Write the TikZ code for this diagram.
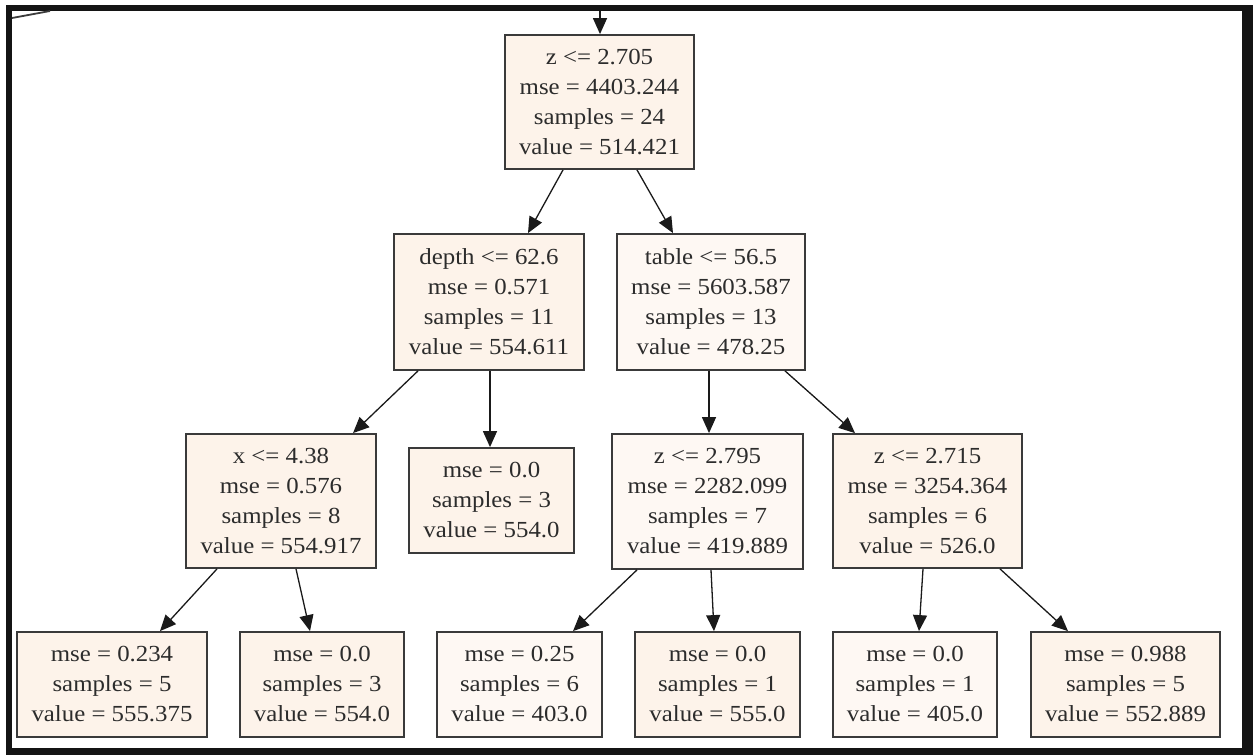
\documentclass[tikz,border=0pt]{standalone}
\usepackage{fontspec}
\setmainfont{Liberation Serif}[FakeStretch=1.08]
\usetikzlibrary{arrows.meta}

\definecolor{nodefill}{HTML}{FDF3EA}
\definecolor{palefill}{HTML}{FEF8F3}
\definecolor{boxline}{HTML}{3A3A3A}
\definecolor{textcol}{HTML}{2C2C2C}
\definecolor{edgecol}{HTML}{1A1A1A}

\begin{document}
\begin{tikzpicture}[x=1pt,y=-1pt,
  box/.style={draw=boxline, line width=1.8pt, fill=nodefill, text=textcol,
    align=center, inner sep=0pt, font=\fontsize{23}{30}\selectfont},
  splitbox/.style={box, minimum width=#1, minimum height=134pt},
  leafbox/.style={box, minimum width=#1, minimum height=105pt},
  edge/.style={draw=edgecol, line width=1.3pt,
    -{Triangle[length=16pt,width=14pt]}},
]
\useasboundingbox (0,0) rectangle (1257,755);

% screen frame around the tree view
\fill[black!92] (6,5) rectangle (1253,755);
\fill[white] (12,11) rectangle (1242,748);

% edges entering from outside the view
\coordinate (inTop) at (600,11);
\coordinate (cutA) at (12,18);
\coordinate (cutB) at (50,11);
\draw[edgecol!85, line width=1.8pt] (cutA) -- (cutB);

% split nodes
\node[splitbox=189pt] (root) at (599.5,102)
  {z <= 2.705\\mse = 4403.244\\samples = 24\\value = 514.421};
\node[splitbox=190pt, minimum height=136pt] (depth) at (489,302)
  {depth <= 62.6\\mse = 0.571\\samples = 11\\value = 554.611};
\node[splitbox=188pt, minimum height=136pt, fill=palefill] (table) at (711,302)
  {table <= 56.5\\mse = 5603.587\\samples = 13\\value = 478.25};
\node[splitbox=190pt] (xs) at (281,501)
  {x <= 4.38\\mse = 0.576\\samples = 8\\value = 554.917};
\node[splitbox=191pt, minimum height=135pt, fill=palefill] (zl) at (707.5,501.5)
  {z <= 2.795\\mse = 2282.099\\samples = 7\\value = 419.889};
\node[splitbox=189pt] (zr) at (927.5,501)
  {z <= 2.715\\mse = 3254.364\\samples = 6\\value = 526.0};

% leaves
\node[leafbox=165pt] (leafA) at (491.5,500.5)
  {mse = 0.0\\samples = 3\\value = 554.0};
\node[leafbox=190pt] (leafB) at (112,684.5)
  {mse = 0.234\\samples = 5\\value = 555.375};
\node[leafbox=164pt] (leafC) at (322,684.5)
  {mse = 0.0\\samples = 3\\value = 554.0};
\node[leafbox=165pt, fill=palefill] (leafD) at (519.5,684.5)
  {mse = 0.25\\samples = 6\\value = 403.0};
\node[leafbox=165pt] (leafE) at (717.5,684.5)
  {mse = 0.0\\samples = 1\\value = 555.0};
\node[leafbox=164pt, fill=palefill] (leafF) at (915,684.5)
  {mse = 0.0\\samples = 1\\value = 405.0};
\node[leafbox=189pt] (leafG) at (1125.5,684.5)
  {mse = 0.988\\samples = 5\\value = 552.889};

% connectors
\draw[edge] (inTop) -- ([xshift=0.5pt]root.north);
\draw[edge] ([xshift=-36.5pt]root.south) -- ([xshift=39pt]depth.north);
\draw[edge] ([xshift=37.5pt]root.south) -- ([xshift=-38pt]table.north);
\draw[edge] ([xshift=-71pt]depth.south) -- ([xshift=72pt]xs.north);
\draw[edge] ([xshift=1pt]depth.south) -- ([xshift=-1.5pt]leafA.north);
\draw[edge] ([xshift=-2pt]table.south) -- ([xshift=1.5pt]zl.north);
\draw[edge] ([xshift=74pt]table.south) -- ([xshift=-72.5pt]zr.north);
\draw[edge] ([xshift=-64pt]xs.south) -- ([xshift=48pt]leafB.north);
\draw[edge] ([xshift=15pt]xs.south) -- ([xshift=-12pt]leafC.north);
\draw[edge] ([xshift=-70.5pt]zl.south) -- ([xshift=53.5pt]leafD.north);
\draw[edge] ([xshift=3.5pt]zl.south) -- ([xshift=-3.5pt]leafE.north);
\draw[edge] ([xshift=-4.5pt]zr.south) -- ([xshift=4pt]leafF.north);
\draw[edge] ([xshift=72.5pt]zr.south) -- ([xshift=-57.5pt]leafG.north);
\end{tikzpicture}
\end{document}
